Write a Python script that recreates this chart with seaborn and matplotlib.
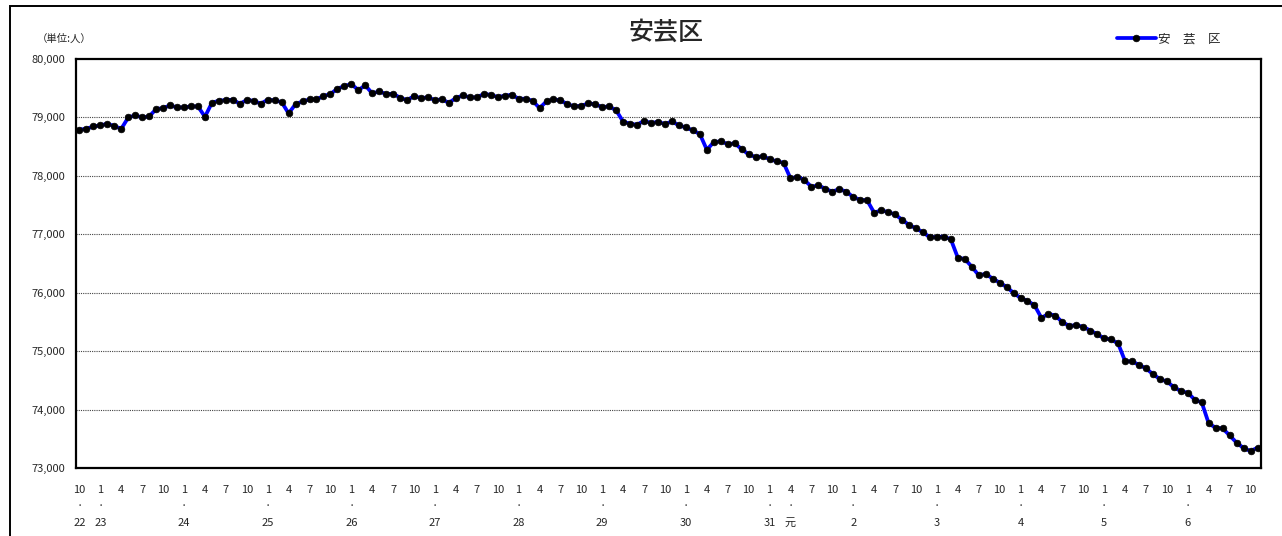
import pandas as pd
import numpy as np
import matplotlib
matplotlib.use("Agg")
import matplotlib.pyplot as plt
from matplotlib.patches import Rectangle
import seaborn as sns

# -- Data: monthly population of Aki-ku (Oct 2010 - Nov 2024) ---
months = pd.period_range("2010-10", "2024-11", freq="M")
population = [
    78790, 78806, 78846, 78863, 78892, 78852, 78806, 79000, 79034, 79000,
    79017, 79143, 79160, 79206, 79171, 79171, 79188, 79188, 79011, 79251,
    79286, 79297, 79303, 79234, 79297, 79286, 79234, 79303, 79291, 79263,
    79069, 79228, 79274, 79308, 79308, 79366, 79400, 79491,
    79537, 79571, 79468, 79548, 79411, 79445, 79400, 79405, 79337, 79297,
    79365, 79331, 79343, 79297, 79308, 79251, 79331, 79377, 79343, 79343,
    79400, 79388, 79348, 79371, 79388, 79320, 79320, 79286, 79160, 79274,
    79308, 79291, 79228, 79188, 79200, 79240, 79225,
    79177, 79188, 79120, 78926, 78892, 78875, 78943, 78903, 78926, 78886,
    78932, 78863, 78829, 78778, 78715, 78447, 78578, 78590, 78544, 78555,
    78458, 78367, 78322, 78333, 78288, 78248, 78225, 77957, 77985, 77928,
    77814, 77837, 77780, 77729, 77775, 77729, 77638,
    77590, 77580, 77370, 77410, 77380, 77340, 77251,
    77160, 77103, 77034, 76949, 76954, 76960, 76915, 76601, 76578, 76447,
    76299, 76322, 76242, 76173, 76099, 75997, 75911, 75860, 75786, 75569,
    75638, 75609, 75495,
    75433, 75445, 75416, 75353, 75291, 75217, 75200, 75131, 74829, 74823,
    74766, 74704, 74607, 74521, 74481, 74384, 74316, 74288, 74168, 74122,
    73763, 73689, 73678, 73558, 73433, 73341, 73290, 73347,
]
y_ticks = [73000, 74000, 75000, 76000, 77000, 78000, 79000, 80000]
district = "安芸区"
legend_label = "安　芸　区"
unit_label = "（単位:人）"

df = pd.DataFrame({"idx": np.arange(len(months)), "pop": population})


# -- Japanese era year label for the x axis ---------------------
def era_year(p):
    if p.year == 2019 and p.month == 4:
        return "元"
    if p.year <= 2019:
        return str(p.year - 1988)
    return str(p.year - 2018)


tick_pos, tick_lbl = [], []
for i, p in enumerate(months):
    if p.month not in (1, 4, 7, 10):
        continue
    tick_pos.append(i)
    if i == 0 or p.month == 1 or (p.year == 2019 and p.month == 4):
        tick_lbl.append(f"{p.month}\n·\n{era_year(p)}")
    else:
        tick_lbl.append(f"{p.month}")

# -- Figure -----------------------------------------------------
sns.set_style("white")
plt.rcParams["font.family"] = ["Noto Sans CJK JP", "DejaVu Sans"]

W, H = 1282, 536
fig = plt.figure(figsize=(W / 100, H / 100), dpi=100)
ax = fig.add_axes([76 / W, 1 - 468 / H, (1261 - 76) / W, (468 - 59) / H])

sns.lineplot(data=df, x="idx", y="pop", ax=ax, color="#0000FF",
             linewidth=2.7, marker="o", markersize=4.8,
             markerfacecolor="black", markeredgecolor="black",
             markeredgewidth=0.5, label=legend_label)

ax.set_xlim(-0.5, len(months) - 0.5)
ax.set_ylim(73000, 80000)
ax.set_yticks(y_ticks)
ax.set_yticklabels([f"{v:,}" for v in y_ticks], fontsize=8)
ax.set_xticks(tick_pos)
ax.set_xticklabels(tick_lbl, fontsize=8, linespacing=1.85)
ax.tick_params(axis="both", length=0)
ax.tick_params(axis="x", pad=12)
ax.tick_params(axis="y", pad=8)
ax.set_xlabel("")
ax.set_ylabel("")

for v in y_ticks[1:-1]:
    ax.axhline(v, color="#444444", linewidth=0.8, linestyle=(0, (1, 1)),
               zorder=0)
for s in ax.spines.values():
    s.set_color("black")
    s.set_linewidth(1.6)

ax.legend(loc="center left", bbox_to_anchor=(1117 / W, 1 - 39 / H),
          bbox_transform=fig.transFigure, frameon=False, fontsize=9,
          handlelength=3.1, handletextpad=0.15, borderpad=0, borderaxespad=0)

fig.text(666 / W, 1 - 33 / H, district, ha="center", va="center",
         fontsize=18, fontweight="medium")
fig.text(37 / W, 1 - 39 / H, unit_label, ha="left", va="center",
         fontsize=7.5)

fig.patches.append(Rectangle((10 / W, -0.05), 1.0, 1 - 6 / H + 0.05,
                             transform=fig.transFigure, fill=False,
                             edgecolor="black", linewidth=1.4))

fig.savefig("out.png", dpi=100, facecolor="white")
